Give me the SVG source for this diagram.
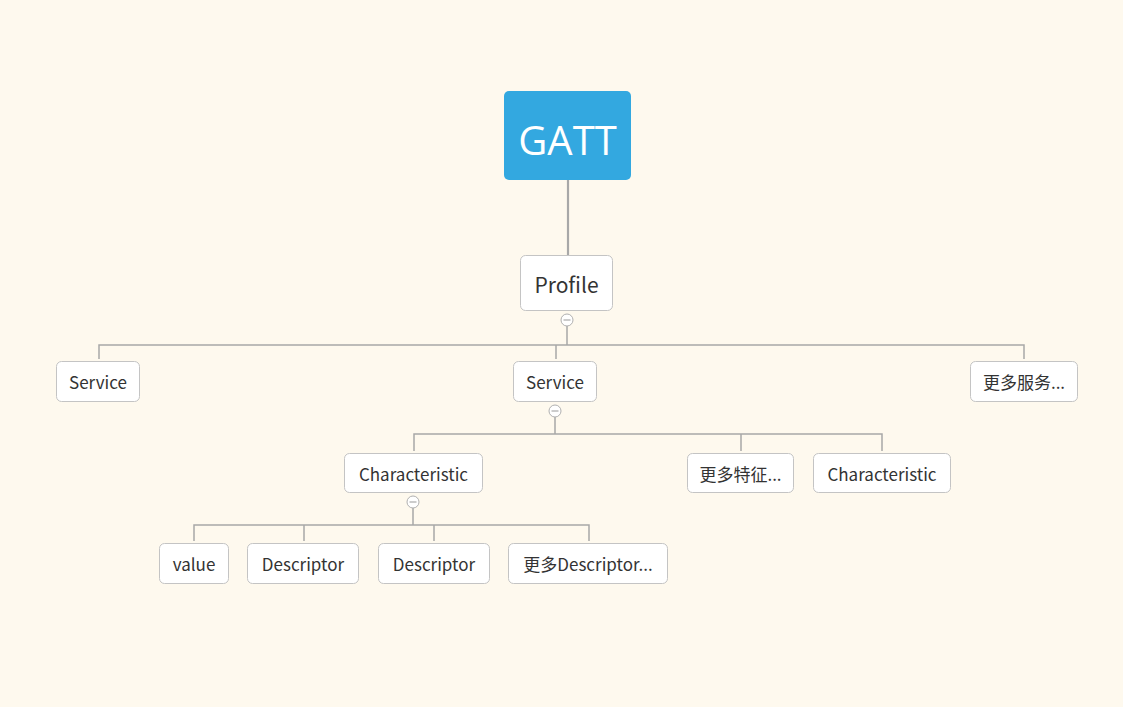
<svg xmlns="http://www.w3.org/2000/svg" width="1123" height="707" viewBox="0 0 1123 707">
<style>
.bg{fill:#fef9ee}
.node rect{fill:#ffffff;stroke:#c4c4c4;stroke-width:1}
.node text{font-family:"Noto Sans CJK SC","Open Sans",sans-serif;font-size:17px;fill:#333333;text-anchor:middle;dominant-baseline:central}
.conn path{fill:none;stroke:#a8a8a8;stroke-width:1.5}
.toggle circle{fill:#ffffff;stroke:#b0b0b0;stroke-width:1}
.toggle line{stroke:#999;stroke-width:1}
</style>
<rect class="bg" x="0" y="0" width="1123" height="707"/>
<g id="connectors" class="conn">
<path d="M568 180 V255" style="stroke-width:2.2"/>
<path d="M567 326 V345 M99 359 V345 H1024 V359 M556 345 V359"/>
<path d="M555 417 V434 M414 451 V434 H882 V451 M741 434 V451"/>
<path d="M413 508 V525 M194 541 V525 H589 V541 M304 525 V541 M434 525 V541"/>
</g>
<g id="toggles" class="toggle">
<circle cx="567" cy="320" r="6"/><line x1="563.5" y1="320" x2="570.5" y2="320"/>
<circle cx="555" cy="411" r="6"/><line x1="551.5" y1="411" x2="558.5" y2="411"/>
<circle cx="413" cy="502" r="6"/><line x1="409.5" y1="502" x2="416.5" y2="502"/>
</g>
<g id="gatt">
<rect x="504" y="91" width="127" height="89" rx="5" fill="#33a8e0"/>
<text x="567.5" y="139" font-family="'Open Sans','Noto Sans',sans-serif" font-size="40" fill="#ffffff" text-anchor="middle" dominant-baseline="central">GATT</text>
</g>
<g id="profile" class="node">
<rect x="520.5" y="255.5" width="92" height="55" rx="5"/>
<text x="566.5" y="284" style="font-size:21px">Profile</text>
</g>
<g id="service1" class="node">
<rect x="56.5" y="361.5" width="83" height="40" rx="5"/>
<text x="98" y="381.5">Service</text>
</g>
<g id="service2" class="node">
<rect x="513.5" y="361.5" width="83" height="40" rx="5"/>
<text x="555" y="381.5">Service</text>
</g>
<g id="more-services" class="node">
<rect x="970.5" y="361.5" width="107" height="40" rx="5"/>
<text x="1024" y="381.5">更多服务...</text>
</g>
<g id="characteristic1" class="node">
<rect x="344.5" y="453.5" width="138" height="39" rx="5"/>
<text x="413.5" y="473">Characteristic</text>
</g>
<g id="more-characteristics" class="node">
<rect x="687.5" y="453.5" width="106" height="39" rx="5"/>
<text x="740.5" y="473">更多特征...</text>
</g>
<g id="characteristic2" class="node">
<rect x="813.5" y="453.5" width="137" height="39" rx="5"/>
<text x="882" y="473">Characteristic</text>
</g>
<g id="value" class="node">
<rect x="159.5" y="543.5" width="69" height="40" rx="5"/>
<text x="194" y="563.5">value</text>
</g>
<g id="descriptor1" class="node">
<rect x="247.5" y="543.5" width="111" height="40" rx="5"/>
<text x="303" y="563.5">Descriptor</text>
</g>
<g id="descriptor2" class="node">
<rect x="378.5" y="543.5" width="111" height="40" rx="5"/>
<text x="434" y="563.5">Descriptor</text>
</g>
<g id="more-descriptors" class="node">
<rect x="508.5" y="543.5" width="159" height="40" rx="5"/>
<text x="588" y="563.5">更多Descriptor...</text>
</g>
</svg>
